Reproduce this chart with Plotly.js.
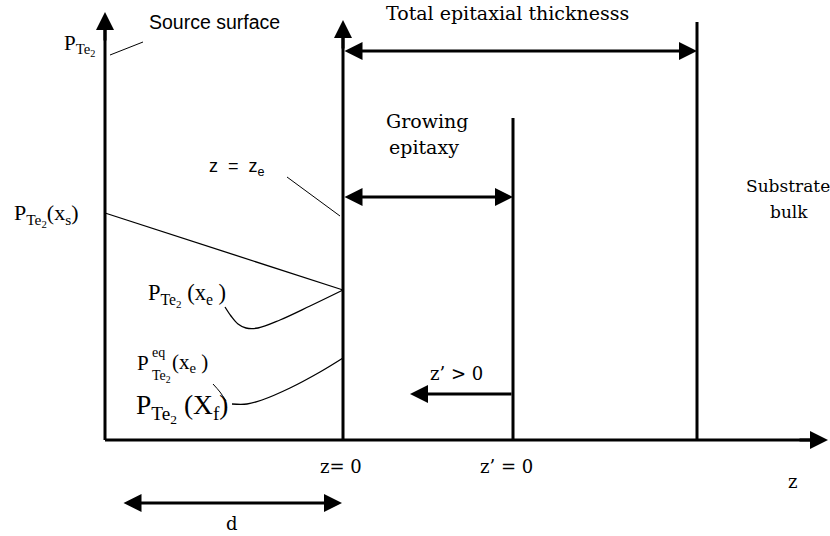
<!DOCTYPE html>
<html><head><meta charset="utf-8">
<script src="https://cdn.plot.ly/plotly-3.0.1.min.js"></script>
<style>html,body{margin:0;padding:0;background:#fff}#c{width:830px;height:536px}</style>
</head><body><div id="c"></div>
<script>
// Schematic coordinates (diagram units = picture pixels, y grows downward)
const axisOrigin = [105, 440];
const axisEnds = [828, 12];                 // z-axis end x, P-axis top y
const boundaryNames = ["z= 0", "z’ = 0"];
const boundaryLabelX = [341, 506];
const boundaryX = [343, 513, 697];          // z=0, z'=0, substrate
const boundaryTop = [20, 118, 22];
const profileX = [105, 343];                // P_Te2(x_s) -> P_Te2(x_e)
const profileY = [213, 290];
const curveEX = [225, 231, 238, 246, 258, 280, 310, 343];
const curveEY = [307, 316, 324, 328, 328, 320, 306, 290];
const curveFX = [232, 247, 262, 290, 320, 343];
const curveFY = [404, 404, 400, 388, 372, 358];
const leaderSourceX = [110, 143], leaderSourceY = [55, 42];
const leaderZeX = [287, 340], leaderZeY = [177, 216];
const leaderEqX = [213, 220, 226], leaderEqY = [384, 392, 401];
const totalArrowY = 51, growArrowY = 197, zpArrowY = 394, zpArrowEnd = 410;
const dArrow = [122, 342], dArrowY = 503;

const thick = {color:'#000', width:3};
const thin = {color:'#000', width:1};
const traces = [];
function line(x, y, l){ traces.push({x:x, y:y, mode:'lines', line:l, hoverinfo:'skip', showlegend:false}); }
line([axisOrigin[0], axisOrigin[0]], [axisOrigin[1], axisEnds[1]+8], thick);
line([axisOrigin[0], axisEnds[0]-8], [axisOrigin[1], axisOrigin[1]], thick);
boundaryX.forEach((bx,i)=> line([bx,bx],[axisOrigin[1], boundaryTop[i] + (i===0?8:0)], thick));
line(profileX, profileY, {color:'#000', width:1.3});
line(curveEX, curveEY, {color:'#000', width:1.3, shape:'spline'});
line(curveFX, curveFY, {color:'#000', width:1.3, shape:'spline'});
line(leaderSourceX, leaderSourceY, thin);
line(leaderZeX, leaderZeY, thin);
line(leaderEqX, leaderEqY, {color:'#000', width:1, shape:'spline'});

const serif = 'DejaVu Serif';
const times = 'Liberation Serif';
const sans = 'Liberation Sans';
const ann = [];
function arrow(x, y, ax, ay, both){
  ann.push({x:x, y:y, ax:ax, ay:ay, xref:'x', yref:'y', axref:'x', ayref:'y', text:'',
    showarrow:true, arrowhead:2, arrowsize:1.2, arrowwidth:3, arrowcolor:'#000',
    arrowside: both ? 'end+start' : 'end', standoff:0, startstandoff:0});
}
arrow(axisOrigin[0], axisEnds[1], axisOrigin[0], axisEnds[1]+30);
arrow(axisEnds[0], axisOrigin[1], axisEnds[0]-30, axisOrigin[1]);
arrow(boundaryX[0], boundaryTop[0], boundaryX[0], boundaryTop[0]+30);
arrow(boundaryX[2], totalArrowY, boundaryX[0], totalArrowY, true);
arrow(boundaryX[1], growArrowY, boundaryX[0], growArrowY, true);
arrow(zpArrowEnd, zpArrowY, boundaryX[1], zpArrowY);
arrow(dArrow[1], dArrowY, dArrow[0], dArrowY, true);

function txt(t, x, y, size, font, xa){
  ann.push({x:x, y:y, xref:'x', yref:'y', text:t, showarrow:false, xanchor:xa||'center', yanchor:'middle',
    font:{family:font, size:size, color:'#000'}});
}
txt('Source surface', 147, 22, 19.5, sans, 'left');
txt('Total epitaxial thicknesss', 384, 13, 19, serif, 'left');
txt('Growing', 384, 121, 19, serif, 'left');
txt('epitaxy', 387, 147, 19, serif, 'left');
txt('Substrate', 744, 186, 17, serif, 'left');
txt('bulk', 789, 212, 17, serif, 'center');
txt('z  =  z<sub>e</sub>', 207, 167, 18, sans, 'left');
txt('z’ &gt; 0', 456, 373, 18, serif, 'center');
txt(boundaryNames[0], boundaryLabelX[0], 466, 18, serif, 'center');
txt(boundaryNames[1], boundaryLabelX[1], 466, 18, serif, 'center');
txt('z', 792, 481, 18, serif, 'center');
txt('d', 232, 523, 18, serif, 'center');
txt('P<sub>Te<sub>2</sub></sub>', 62, 45, 21, times, 'left');
txt('P<sub>Te<sub>2</sub></sub>(x<sub>s</sub>)', 12, 215, 22, times, 'left');
txt('P<sub>Te<sub>2</sub></sub> (x<sub>e</sub> )', 146, 295, 22.5, times, 'left');
txt('P', 135, 363, 21, times, 'left');
txt('eq', 150, 352, 14, times, 'left');
txt('Te<sub>2</sub>', 150, 376, 14, times, 'left');
txt('(x<sub>e</sub> )', 170, 363, 21, times, 'left');
txt('P<sub>Te<sub>2</sub></sub> (X<sub>f</sub>)', 134, 408, 27.5, times, 'left');

const layout = {
  width:830, height:536, margin:{l:0,r:0,t:0,b:0}, paper_bgcolor:'#fff', plot_bgcolor:'#fff',
  font:{family:times},
  xaxis:{range:[0,830], visible:false, fixedrange:true},
  yaxis:{range:[536,0], visible:false, fixedrange:true},
  annotations: ann, showlegend:false
};
Plotly.newPlot('c', traces, layout, {staticPlot:true, displayModeBar:false});
</script></body></html>
